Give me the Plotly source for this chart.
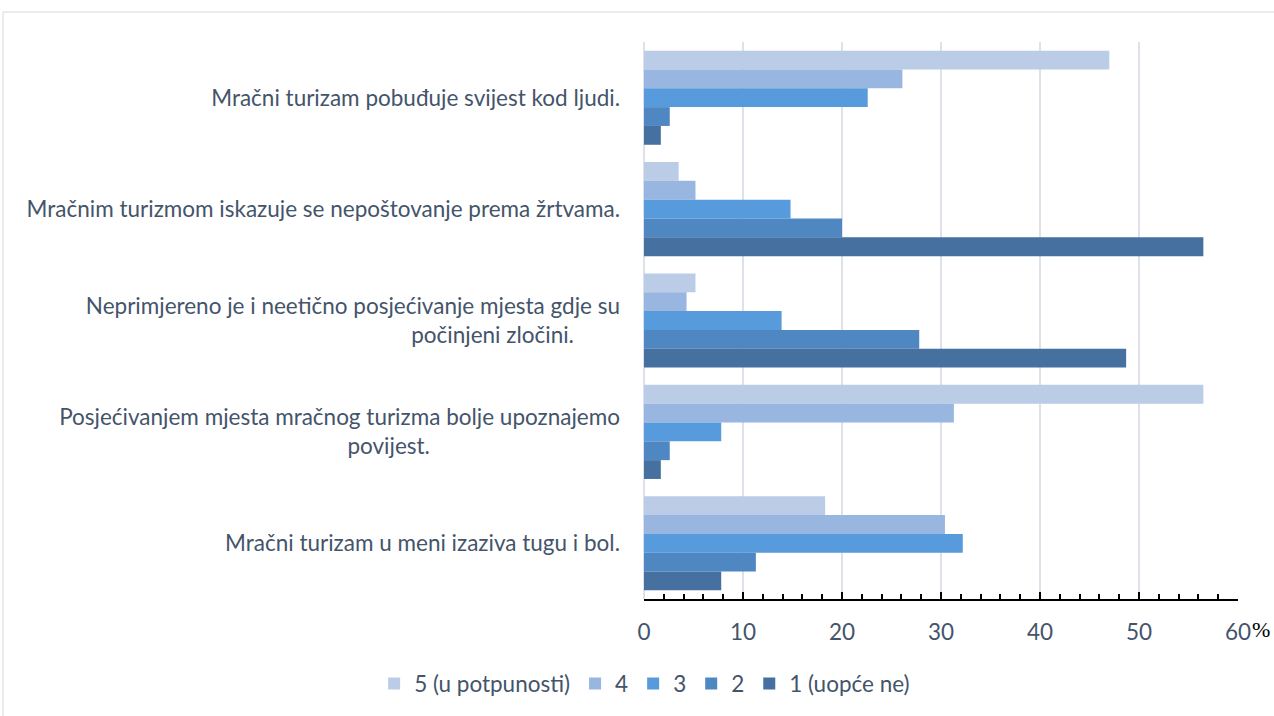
import plotly.graph_objects as go

# izjave (odozgo prema dolje)
statements = [
    "Mračni turizam pobuđuje svijest kod ljudi.",
    "Mračnim turizmom iskazuje se nepoštovanje prema žrtvama.",
    "Neprimjereno je i neetično posjećivanje mjesta gdje su<br>počinjeni zločini." + "\u00a0" * 8,
    "Posjećivanjem mjesta mračnog turizma bolje upoznajemo<br>povijest." + "\u00a0" * 33,
    "Mračni turizam u meni izaziva tugu i bol.",
]

# postotci odgovora po ocjeni
ocjena_5 = [47.0, 3.5, 5.2, 56.5, 18.3]
ocjena_4 = [26.1, 5.2, 4.3, 31.3, 30.4]
ocjena_3 = [22.6, 14.8, 13.9, 7.8, 32.2]
ocjena_2 = [2.6, 20.0, 27.8, 2.6, 11.3]
ocjena_1 = [1.7, 56.5, 48.7, 1.7, 7.8]

series_names = ["5 (u potpunosti)", "4", "3", "2", "1 (uopće ne)"]
series_values = [ocjena_5, ocjena_4, ocjena_3, ocjena_2, ocjena_1]
colors = ["#BACCE6", "#98B6E0", "#579BDD", "#4E87C1", "#45709F"]

x_ticks = [0, 10, 20, 30, 40, 50, 60]

TEXT_COLOR = "#44546A"
FONT = "Lato"
FS = 22.5

fig = go.Figure()
for name, vals, color in zip(series_names, series_values, colors):
    fig.add_trace(
        go.Bar(
            y=statements,
            x=vals,
            name=name,
            orientation="h",
            marker=dict(color=color, line=dict(width=0)),
        )
    )

fig.update_layout(
    width=1274,
    height=716,
    barmode="group",
    bargap=0.155,
    bargroupgap=0,
    plot_bgcolor="white",
    paper_bgcolor="white",
    margin=dict(l=644, r=36, t=42, b=117),
    font=dict(family=FONT, size=FS, color=TEXT_COLOR),
    legend=dict(
        orientation="h",
        xref="container",
        yref="container",
        x=0.506,
        y=0.045,
        xanchor="center",
        yanchor="middle",
        itemwidth=30,
        font=dict(size=FS, color=TEXT_COLOR),
        traceorder="normal",
    ),
    showlegend=True,
)

fig.update_xaxes(
    range=[0, 60],
    tickvals=x_ticks,
    ticks="inside",
    ticklen=7,
    tickwidth=2,
    tickcolor="black",
    minor=dict(dtick=2, ticks="inside", ticklen=5, tickwidth=2, tickcolor="black", showgrid=False),
    showline=True,
    linecolor="black",
    linewidth=2,
    showgrid=True,
    gridcolor="#DDE2EA",
    gridwidth=2,
    zeroline=True,
    zerolinecolor="#DDE2EA",
    zerolinewidth=2,
    ticklabelstandoff=12,
    tickfont=dict(size=FS, color=TEXT_COLOR),
)

fig.update_yaxes(
    autorange="reversed",
    showgrid=False,
    showline=False,
    ticks="",
    ticklabelstandoff=23,
    tickfont=dict(size=FS, color=TEXT_COLOR),
)

# znak % uz zadnju oznaku osi
fig.add_annotation(
    x=60, y=0, xref="x", yref="paper",
    text="%", showarrow=False,
    xshift=23, yshift=-45,
    font=dict(family="Liberation Serif", size=22, color="black"),
)

# okvir grafikona
fig.add_shape(
    type="rect", xref="paper", yref="paper",
    x0=(3 - 644) / 594, x1=(1290 - 644) / 594,
    y0=-0.3, y1=(599 - 12) / 557,
    line=dict(color="#D9D9D9", width=1),
    layer="below",
)

fig.write_html(
    "out.html",
    config={"displayModeBar": False},
    post_script="document.body.style.margin='0';",
)
